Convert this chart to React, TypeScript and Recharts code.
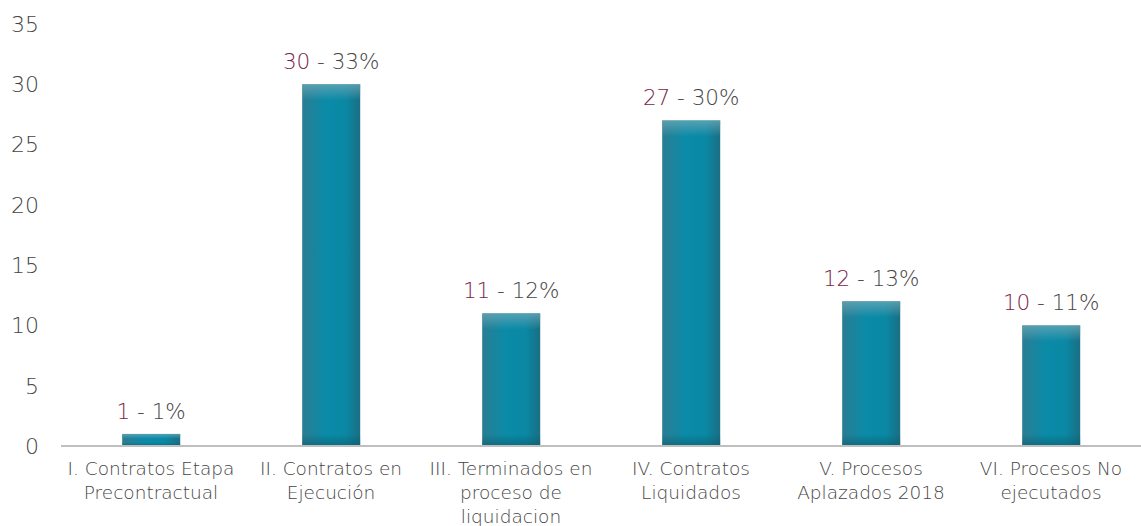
import React from 'react';
import { BarChart, Bar, XAxis, YAxis, LabelList } from 'recharts';

const categories = [
  'I. Contratos Etapa\nPrecontractual',
  'II. Contratos en\nEjecución',
  'III. Terminados en\nproceso de\nliquidacion',
  'IV. Contratos\nLiquidados',
  'V. Procesos\nAplazados 2018',
  'VI. Procesos No\nejecutados',
];
const counts = [1, 30, 11, 27, 12, 10];
const percents = ['1%', '33%', '12%', '30%', '13%', '11%'];
const yTicks = [0, 5, 10, 15, 20, 25, 30, 35];

const data = categories.map((name, i) => ({ name, count: counts[i], pct: percents[i] }));

const FONT = '"DejaVu Sans", sans-serif';
const GRAY = '#454545';
const MAROON = '#7A2347';

const CategoryTick = (props: any) => {
  const { x, y, payload } = props;
  const lines = String(payload.value).split('\n');
  return (
    <text x={x} y={y} textAnchor="middle" fill={GRAY} fontSize={18.5} fontWeight={300} fontFamily={FONT}>
      {lines.map((line, i) => (
        <tspan key={i} x={x} dy={i === 0 ? 21 : 24}>{line}</tspan>
      ))}
    </text>
  );
};

const BarShape = (props: any) => {
  const { x, y, width, height } = props;
  if (!height || height <= 0) return null;
  const top = Math.min(16, height * 0.4);
  const bottom = Math.min(12, height * 0.3);
  return (
    <g>
      <rect x={x} y={y} width={width} height={height} fill="url(#barSide)" />
      <rect x={x} y={y} width={width} height={top} fill="url(#barTop)" />
      <rect x={x} y={y + height - bottom} width={width} height={bottom} fill="url(#barBottom)" />
    </g>
  );
};

const ValueLabel = (props: any) => {
  const { x, y, width, index } = props;
  const cx = x + width / 2;
  return (
    <text x={cx} y={y - 21} textAnchor="middle" dominantBaseline="middle" fontSize={21.5} fontWeight={300} fontFamily={FONT}>
      <tspan fill={MAROON}>{counts[index]}</tspan>
      <tspan fill={GRAY}>{' - ' + percents[index]}</tspan>
    </text>
  );
};

export default function App() {
  return (
    <div style={{ position: 'absolute', left: 0, top: 0, width: 1141, height: 526, background: '#fff' }}>
      <BarChart width={1141} height={526} data={data} margin={{ top: 24, right: 0, left: 0, bottom: 0 }} barCategoryGap="34%">
        <defs>
          <linearGradient id="barSide" x1="0" y1="0" x2="1" y2="0">
            <stop offset="0%" stopColor="#2A7D92" />
            <stop offset="40%" stopColor="#0B8BA8" />
            <stop offset="75%" stopColor="#0A88A4" />
            <stop offset="100%" stopColor="#1A6E84" />
          </linearGradient>
          <linearGradient id="barTop" x1="0" y1="0" x2="0" y2="1">
            <stop offset="0%" stopColor="#6FA8B6" stopOpacity={0.75} />
            <stop offset="100%" stopColor="#6FA8B6" stopOpacity={0} />
          </linearGradient>
          <linearGradient id="barBottom" x1="0" y1="0" x2="0" y2="1">
            <stop offset="0%" stopColor="#0B5A6C" stopOpacity={0} />
            <stop offset="100%" stopColor="#0B5A6C" stopOpacity={0.6} />
          </linearGradient>
        </defs>
        <XAxis
          dataKey="name"
          height={80}
          interval={0}
          tickLine={false}
          axisLine={{ stroke: '#BFBFBF', strokeWidth: 2 }}
          tick={<CategoryTick />}
        />
        <YAxis
          width={61}
          domain={[0, 35]}
          ticks={yTicks}
          interval={0}
          axisLine={false}
          tickLine={false}
          tickSize={0}
          tickMargin={22}
          tick={{ fill: GRAY, fontSize: 22, fontWeight: 300, fontFamily: FONT }}
        />
        <Bar dataKey="count" shape={<BarShape />} isAnimationActive={false}>
          <LabelList dataKey="count" content={<ValueLabel />} />
        </Bar>
      </BarChart>
    </div>
  );
}
